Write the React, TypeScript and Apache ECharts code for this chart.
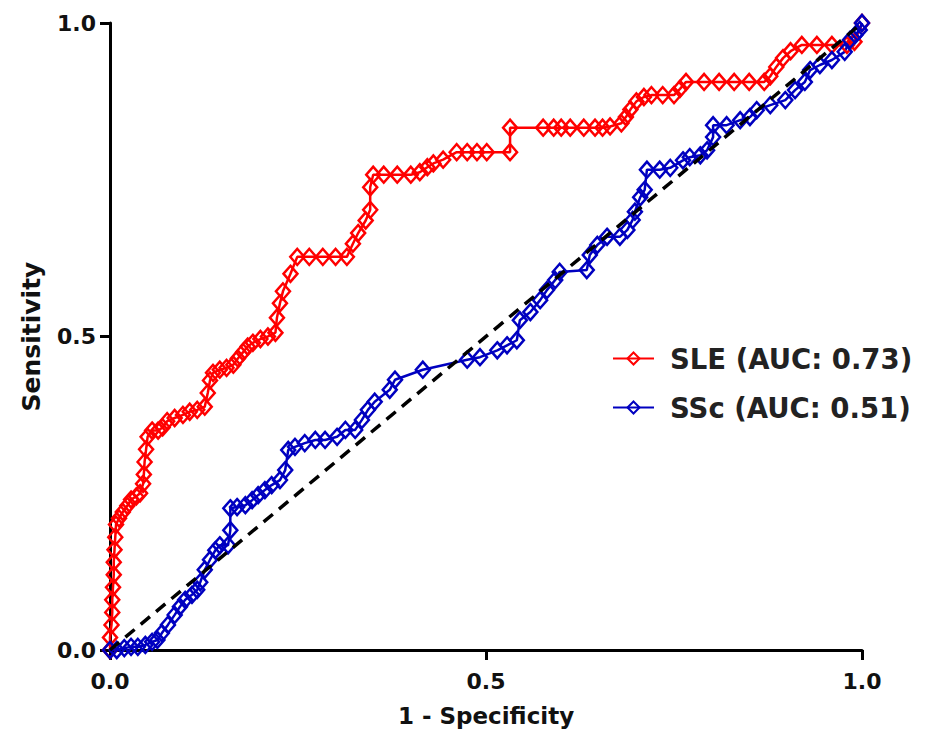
import React, { useEffect, useRef } from "react";
import * as echarts from "echarts";

const sleFpr = [0,0,0.002,0.003,0.003,0.004,0.005,0.005,0.006,0.007,0.008,0.012,0.017,0.023,0.028,0.035,0.04,0.044,0.045,0.046,0.048,0.05,0.056,0.064,0.07,0.076,0.086,0.097,0.106,0.116,0.126,0.13,0.133,0.137,0.146,0.155,0.164,0.17,0.177,0.183,0.19,0.2,0.21,0.22,0.222,0.226,0.23,0.24,0.249,0.265,0.283,0.3,0.315,0.323,0.33,0.34,0.346,0.346,0.35,0.364,0.382,0.4,0.412,0.422,0.43,0.443,0.461,0.475,0.488,0.501,0.532,0.532,0.576,0.59,0.6,0.612,0.63,0.645,0.655,0.665,0.68,0.686,0.692,0.7,0.71,0.72,0.735,0.75,0.758,0.766,0.79,0.81,0.83,0.85,0.87,0.878,0.886,0.895,0.905,0.92,0.94,0.96,0.98,0.99,1];
const sleTpr = [0,0.02,0.04,0.06,0.08,0.1,0.12,0.14,0.16,0.18,0.2,0.21,0.22,0.23,0.24,0.245,0.25,0.265,0.28,0.3,0.32,0.34,0.35,0.35,0.355,0.365,0.37,0.375,0.38,0.383,0.388,0.41,0.43,0.442,0.447,0.45,0.455,0.465,0.475,0.484,0.49,0.496,0.5,0.506,0.53,0.553,0.572,0.6,0.627,0.627,0.627,0.627,0.627,0.648,0.665,0.685,0.702,0.738,0.758,0.758,0.758,0.758,0.762,0.77,0.776,0.782,0.794,0.794,0.794,0.794,0.794,0.833,0.833,0.833,0.833,0.833,0.833,0.833,0.833,0.835,0.84,0.85,0.862,0.875,0.882,0.885,0.885,0.885,0.895,0.906,0.906,0.906,0.906,0.906,0.906,0.915,0.93,0.944,0.955,0.965,0.965,0.965,0.965,0.97,1];

const sscFpr = [0,0.009,0.019,0.028,0.037,0.047,0.056,0.063,0.069,0.077,0.086,0.093,0.1,0.109,0.116,0.12,0.126,0.133,0.14,0.146,0.157,0.16,0.16,0.169,0.18,0.189,0.197,0.206,0.215,0.226,0.233,0.237,0.246,0.259,0.273,0.286,0.302,0.313,0.326,0.335,0.343,0.352,0.372,0.379,0.416,0.475,0.492,0.515,0.528,0.541,0.545,0.559,0.572,0.581,0.592,0.598,0.634,0.638,0.648,0.661,0.678,0.688,0.695,0.698,0.705,0.711,0.714,0.731,0.745,0.762,0.771,0.785,0.794,0.802,0.802,0.82,0.838,0.851,0.86,0.878,0.898,0.911,0.924,0.931,0.944,0.96,0.977,0.984,0.991,0.997,1];
const sscTpr = [0,0,0.003,0.005,0.005,0.008,0.013,0.016,0.027,0.04,0.056,0.069,0.08,0.088,0.096,0.108,0.128,0.144,0.159,0.167,0.167,0.191,0.226,0.228,0.231,0.239,0.247,0.255,0.263,0.271,0.287,0.319,0.324,0.33,0.335,0.335,0.34,0.351,0.351,0.367,0.383,0.396,0.415,0.431,0.447,0.463,0.467,0.478,0.486,0.494,0.526,0.539,0.558,0.574,0.59,0.603,0.606,0.63,0.646,0.659,0.659,0.67,0.686,0.699,0.722,0.734,0.766,0.766,0.769,0.781,0.786,0.789,0.797,0.818,0.837,0.837,0.845,0.85,0.861,0.869,0.877,0.893,0.906,0.925,0.933,0.941,0.954,0.973,0.981,0.989,1];

const refX = [0, 1];
const refY = [0, 1];

const seriesNames = ["SLE (AUC: 0.73)", "SSc (AUC: 0.51)"];
const axisTicks = [0, 0.5, 1];

const zip = (xs: number[], ys: number[]) => xs.map((x, i) => [x, ys[i]]);

const FONT = "DejaVu Sans";

export default function App() {
  const ref = useRef<HTMLDivElement>(null);
  useEffect(() => {
    document.body.style.margin = "0";
    if (!ref.current) return;
    const chart = echarts.init(ref.current, null, { renderer: "svg" });
    const axisCommon = {
      type: "value" as const,
      min: axisTicks[0],
      max: axisTicks[axisTicks.length - 1],
      interval: 0.5,
      axisLine: { show: true, lineStyle: { color: "#000", width: 3 } },
      axisTick: { show: true, length: 10, lineStyle: { color: "#000", width: 3 } },
      splitLine: { show: false },
      nameLocation: "middle" as const,
    };
    const mkLine = (name: string, color: string, data: number[][]) => ({
      name,
      type: "line",
      data,
      symbol: "diamond",
      symbolSize: [14, 16],
      showSymbol: true,
      lineStyle: { color, width: 2.5 },
      itemStyle: { color: "rgba(255,255,255,0)", borderColor: color, borderWidth: 2.5 },
      z: 3,
    });
    chart.setOption({
      animation: false,
      backgroundColor: "#fff",
      grid: { left: 110, right: 63, top: 23, bottom: 90, containLabel: false },
      xAxis: {
        ...axisCommon,
        name: "1 - Specificity",
        nameGap: 54,
        nameTextStyle: { fontFamily: FONT, fontWeight: "bold", fontSize: 23, color: "#111" },
        axisLabel: {
          margin: 20,
          fontFamily: FONT,
          fontWeight: "bold",
          fontSize: 22,
          color: "#111",
          formatter: (v: number) => v.toFixed(1),
        },
      },
      yAxis: {
        ...axisCommon,
        name: "Sensitivity",
        nameGap: 66,
        nameTextStyle: { fontFamily: FONT, fontWeight: "bold", fontSize: 25, color: "#111" },
        axisLabel: {
          margin: 14,
          fontFamily: FONT,
          fontWeight: "bold",
          fontSize: 22,
          color: "#111",
          formatter: (v: number) => v.toFixed(1),
        },
      },
      legend: {
        data: seriesNames,
        orient: "vertical",
        left: 607,
        top: 338,
        itemWidth: 41,
        itemHeight: 15,
        itemGap: 18,
        textStyle: {
          fontFamily: FONT,
          fontWeight: "bold",
          fontSize: 27.5,
          lineHeight: 31,
          color: "#222",
          padding: [0, 0, 0, 11],
        },
      },
      series: [
        mkLine(seriesNames[0], "#ff0000", zip(sleFpr, sleTpr)),
        mkLine(seriesNames[1], "#0000c0", zip(sscFpr, sscTpr)),
        {
          name: "Reference",
          type: "line",
          data: zip(refX, refY),
          symbol: "none",
          lineStyle: { color: "#000", width: 3.5, type: [12, 8] },
          z: 4,
        },
      ],
    });
    return () => chart.dispose();
  }, []);
  return <div ref={ref} style={{ width: 925, height: 740 }} />;
}
